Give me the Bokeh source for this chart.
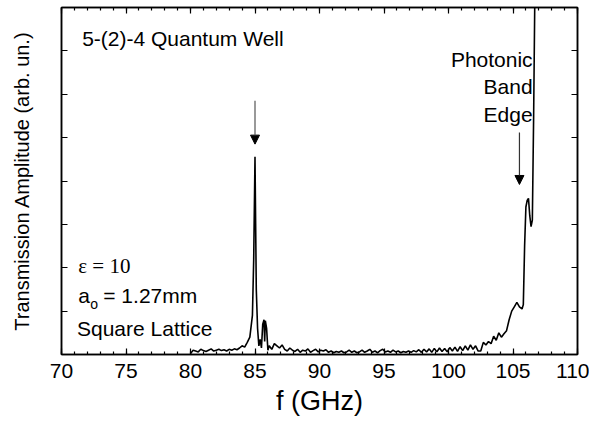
from bokeh.plotting import figure
from bokeh.models import LinearAxis, Arrow, NormalHead, Label, FixedTicker, Range1d, CustomJSTickFormatter
from bokeh.embed import file_html
from bokeh.resources import INLINE

# ---- data ----
freq = [80.0, 80.2, 80.4, 80.6, 80.8, 81.0, 81.2, 81.4, 81.6, 81.8, 82.0, 82.2, 82.4, 82.6, 82.8,
        83.0, 83.2, 83.4, 83.6, 83.8, 84.0, 84.2, 84.4, 84.6, 84.8, 84.9, 85.0, 85.05, 85.1, 85.2,
        85.3, 85.4, 85.5, 85.6, 85.7, 85.75, 85.8, 85.9, 86.0, 86.1, 86.3, 86.5, 86.7, 86.9, 87.1,
        87.3, 87.5, 87.7, 87.9, 88.1, 88.3, 88.5, 88.7, 88.9, 89.1, 89.3, 89.5, 89.7, 89.9, 90.1,
        90.3, 90.5, 90.7, 90.9, 91.1, 91.3, 91.5, 91.7, 91.9, 92.1, 92.3, 92.5, 92.7, 92.9, 93.1,
        93.3, 93.5, 93.7, 93.9, 94.1, 94.3, 94.5, 94.7, 94.9, 95.1, 95.3, 95.5, 95.7, 95.9, 96.1,
        96.3, 96.5, 96.7, 96.9, 97.1, 97.3, 97.5, 97.7, 97.9, 98.1, 98.3, 98.5, 98.7, 98.9, 99.1,
        99.3, 99.5, 99.7, 99.9, 100.1, 100.3, 100.5, 100.7, 100.9, 101.1, 101.3, 101.5, 101.7,
        101.9, 102.1, 102.3, 102.5, 102.7, 102.9, 103.1, 103.3, 103.5, 103.7, 103.9, 104.1, 104.3,
        104.5, 104.7, 104.9, 105.1, 105.3, 105.5, 105.7, 105.8, 105.9, 106.0, 106.1, 106.2, 106.3,
        106.4, 106.5, 106.6, 106.7]
amplitude = [0.02, 0.10, 0.08, 0.06, 0.12, 0.09, 0.07, 0.10, 0.13, 0.08, 0.10, 0.12, 0.09, 0.11, 0.08,
             0.12, 0.10, 0.13, 0.11, 0.15, 0.20, 0.17, 0.28, 0.40, 0.90, 2.20, 4.56, 3.00, 1.50, 0.60,
             0.20, 0.35, 0.15, 0.70, 0.80, 0.30, 0.78, 0.60, 0.10, 0.20, 0.12, 0.25, 0.20, 0.15, 0.22,
             0.12, 0.08, 0.15, 0.10, 0.07, 0.12, 0.05, 0.10, 0.08, 0.13, 0.05, 0.09, 0.12, 0.06, 0.10,
             0.08, 0.11, 0.05, 0.08, 0.04, 0.07, 0.05, 0.08, 0.04, 0.06, 0.10, 0.05, 0.08, 0.04, 0.06,
             0.10, 0.05, 0.08, 0.12, 0.05, 0.08, 0.04, 0.09, 0.12, 0.06, 0.08, 0.05, 0.10, 0.06, 0.08,
             0.04, 0.07, 0.05, 0.08, 0.05, 0.09, 0.06, 0.11, 0.05, 0.12, 0.06, 0.13, 0.05, 0.14, 0.06,
             0.15, 0.07, 0.14, 0.06, 0.16, 0.08, 0.17, 0.07, 0.18, 0.09, 0.20, 0.10, 0.22,
             0.12, 0.20, 0.08, 0.08, 0.28, 0.22, 0.30, 0.25, 0.42, 0.33, 0.50, 0.40, 0.48,
             0.55, 0.80, 1.00, 1.10, 1.20, 1.10, 1.05, 1.15, 2.50, 3.40, 3.55, 3.60, 3.20,
             2.95, 3.10, 5.50, 8.50]
x_ticks = [70, 75, 80, 85, 90, 95, 100, 105, 110]
x_minor = list(range(70, 111))
y_ticks = [0, 1, 2, 3, 4, 5, 6, 7, 8]

# annotation anchors (data units)
peak_arrow = (85.0, 5.85, 4.85)
edge_arrow = (105.5, 5.12, 3.92)

SANS = "Liberation Sans"

p = figure(frame_width=516, frame_height=347, x_range=Range1d(70, 110), y_range=Range1d(0, 8),
           output_backend="svg", toolbar_location=None,
           min_border_left=61, min_border_right=12, min_border_top=7, min_border_bottom=64)
p.grid.visible = False
p.outline_line_color = "black"
p.outline_line_width = 1.5
p.background_fill_color = "white"
p.border_fill_color = "white"

blank = CustomJSTickFormatter(code="return ''")

def style_axis(ax, show_labels):
    ax.axis_line_width = 1.5
    ax.axis_line_color = "black"
    ax.major_tick_in = 6
    ax.major_tick_out = 0
    ax.minor_tick_in = 3
    ax.minor_tick_out = 0
    ax.major_tick_line_width = 1.2
    ax.minor_tick_line_width = 1.2
    ax.major_label_text_color = "black"
    ax.axis_label_text_color = "black"
    if not show_labels:
        ax.formatter = blank
        ax.major_label_standoff = 0

xb = p.xaxis[0]
xb.ticker = FixedTicker(ticks=x_ticks, minor_ticks=x_minor)
style_axis(xb, True)
xb.major_label_text_font = SANS
xb.major_label_text_font_size = "21px"
xb.major_label_standoff = 9
xb.axis_label = "f (GHz)"
xb.axis_label_text_font = SANS
xb.axis_label_text_font_size = "27px"
xb.axis_label_text_font_style = "normal"
xb.axis_label_standoff = 5

yl = p.yaxis[0]
yl.ticker = FixedTicker(ticks=y_ticks, minor_ticks=[])
style_axis(yl, False)
yl.axis_label = "Transmission Amplitude (arb. un.)"
yl.axis_label_text_font = SANS
yl.axis_label_text_font_size = "20px"
yl.axis_label_text_font_style = "normal"
yl.axis_label_standoff = 29

xt = LinearAxis(ticker=FixedTicker(ticks=x_ticks, minor_ticks=x_minor))
style_axis(xt, False)
p.add_layout(xt, "above")
yr = LinearAxis(ticker=FixedTicker(ticks=y_ticks, minor_ticks=[]))
style_axis(yr, False)
p.add_layout(yr, "right")

p.line(freq, amplitude, line_color="black", line_width=1.6)

for (ax_x, y0, y1), col in [(peak_arrow, "#555555"), (edge_arrow, "#333333")]:
    p.add_layout(Arrow(x_start=ax_x, y_start=y0, x_end=ax_x, y_end=y1, line_color=col, line_width=1.2,
                       end=NormalHead(size=9, fill_color="black", line_color="black")))

def lab(x, y, t, size="21px", align="left", font=SANS, x_off=0, y_off=0):
    p.add_layout(Label(x=x, y=y, text=t, text_font=font, text_font_size=size, text_align=align,
                       text_baseline="middle", x_offset=x_off, y_offset=y_off, text_color="black"))

lab(71.6, 7.29, "5-(2)-4 Quantum Well")
lab(106.52, 6.80, "Photonic", align="right")
lab(106.52, 6.17, "Band", align="right")
lab(106.52, 5.53, "Edge", align="right")
lab(71.3, 2.05, "\u03b5 = 10", font="Liberation Serif")
lab(71.3, 1.36, "a")
lab(71.3, 1.36, "o", size="14px", x_off=12, y_off=-8)
lab(71.3, 1.36, "= 1.27mm", x_off=25)
lab(71.2, 0.6, "Square Lattice")

open("out.html", "w").write(file_html(p, INLINE))
